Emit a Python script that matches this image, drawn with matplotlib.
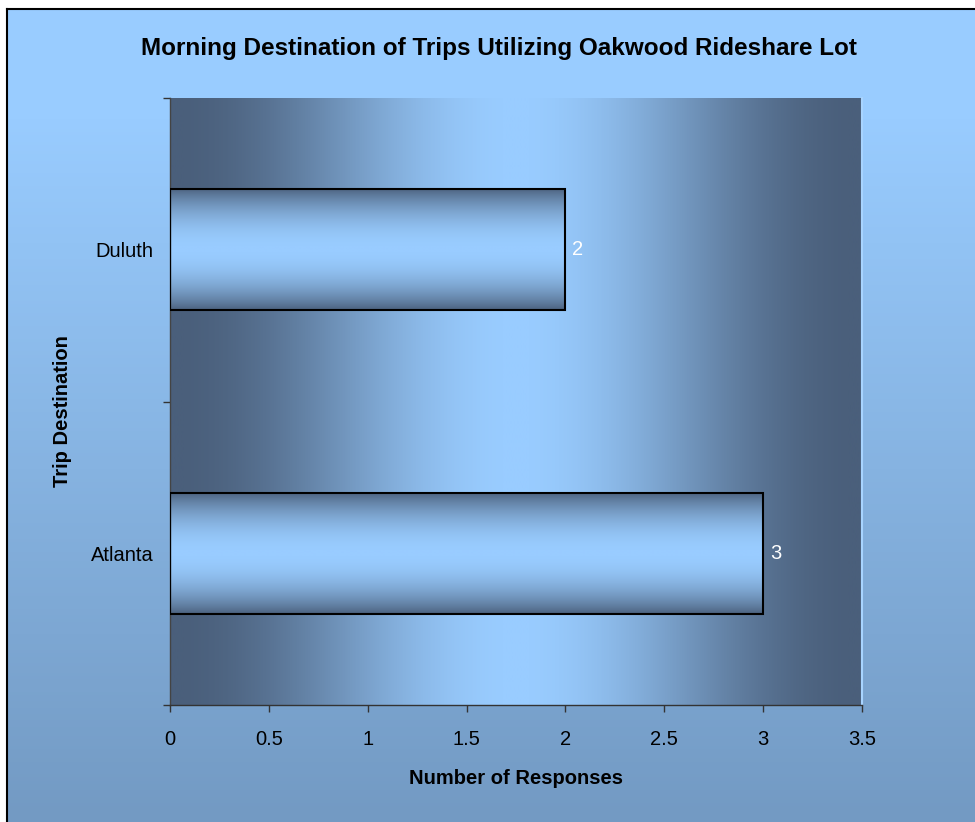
import numpy as np
import matplotlib
matplotlib.use("Agg")
import matplotlib.pyplot as plt
from matplotlib.colors import LinearSegmentedColormap

# ---- data ----
categories = ["Atlanta", "Duluth"]
responses = [3, 2]
x_ticks = [0, 0.5, 1, 1.5, 2, 2.5, 3, 3.5]
x_tick_labels = ["0", "0.5", "1", "1.5", "2", "2.5", "3", "3.5"]
title = "Morning Destination of Trips Utilizing Oakwood Rideshare Lot"
x_label = "Number of Responses"
y_label = "Trip Destination"

plt.rcParams['font.family'] = ['Liberation Sans', 'DejaVu Sans']

W, H = 975, 822
fig = plt.figure(figsize=(W / 100, H / 100), dpi=100, facecolor="white")

# ---- figure background (vertical gradient with border) ----
bg = fig.add_axes([7 / W, 0, 1 - 7 / W, 1 - 9 / H])
bg_cmap = LinearSegmentedColormap.from_list("bg", ["#739AC3", "#99CCFF"])
grad = np.linspace(0, 1, 256).reshape(-1, 1)
grad = np.clip(grad * 1.15, 0, 1)
bg.imshow(grad, cmap=bg_cmap, aspect="auto", origin="lower", extent=[0, 1, 0, 1], vmin=0, vmax=1)
bg.set_xlim(0, 1)
bg.set_ylim(0, 1)
bg.set_xticks([])
bg.set_yticks([])
for s in ["right", "bottom"]:
    bg.spines[s].set_visible(False)
for s in ["left", "top"]:
    bg.spines[s].set_color("black")
    bg.spines[s].set_linewidth(1.5)
bg.set_zorder(0)

# ---- main axes ----
left, right, top, bottom = 170, 862, 98, 705
ax = fig.add_axes([left / W, (H - bottom) / H, (right - left) / W, (bottom - top) / H])
ax.set_zorder(1)

xmax = x_ticks[-1]
n = len(categories)
ax.set_xlim(0, xmax)
ax.set_ylim(-0.5, n - 0.5)

dark = "#4A5F7B"
light = "#99CCFF"
cmap = LinearSegmentedColormap.from_list("pl", [dark, light])

# plot area horizontal gradient
u = np.linspace(0, 1, 512)
t = (1 - np.cos(2 * np.pi * u)) / 2
ax.imshow(t.reshape(1, -1), cmap=cmap, aspect="auto", extent=[0, xmax, -0.5, n - 0.5],
          vmin=0, vmax=1, zorder=0, interpolation="bilinear")

# bars
ypos = np.arange(n)
bars = ax.barh(ypos, responses, height=0.4, facecolor="none", edgecolor="black",
               linewidth=1.5, zorder=3)
v = np.linspace(0, 1, 256)
bt = np.sin(np.pi * v) ** 0.8
for b in bars:
    x0, y0 = b.get_x(), b.get_y()
    w, h = b.get_width(), b.get_height()
    ax.imshow(bt.reshape(-1, 1), cmap=cmap, aspect="auto", extent=[x0, x0 + w, y0, y0 + h],
              vmin=0, vmax=1, zorder=2, interpolation="bilinear")
    ax.annotate(f"{int(w)}", xy=(x0 + w, y0 + h / 2), xytext=(5, 0), textcoords="offset points",
                ha="left", va="center", color="white", fontsize=14.5)

ax.set_xlim(0, xmax)
ax.set_ylim(-0.5, n - 0.5)

# ticks
ax.set_xticks(x_ticks)
ax.set_xticklabels(x_tick_labels, fontsize=14.5)
ax.tick_params(axis="x", direction="out", length=5, width=1, color="#333333", pad=13)

ax.set_yticks(np.arange(-0.5, n, 1.0))
ax.set_yticklabels([])
ax.set_yticks(ypos, minor=True)
ax.set_yticklabels(categories, minor=True, fontsize=14.5)
ax.tick_params(axis="y", which="major", direction="out", length=5, width=1, color="#333333")
ax.tick_params(axis="y", which="minor", length=0, pad=12)

ax.spines["top"].set_visible(False)
ax.spines["right"].set_color("#A8D4FF")
ax.spines["right"].set_linewidth(1.5)
ax.spines["left"].set_color("#444444")
ax.spines["left"].set_linewidth(1)
ax.spines["bottom"].set_color("#333333")
ax.spines["bottom"].set_linewidth(1)

ax.set_xlabel(x_label, fontsize=14.5, fontweight="bold")
ax.xaxis.set_label_coords(0.5, (705 - 778) / 607, transform=ax.transAxes)
ax.xaxis.label.set_va("center")
ax.set_ylabel(y_label, fontsize=14.5, fontweight="bold")
ax.yaxis.set_label_coords((63 - 170) / 692, (705 - 411) / 607, transform=ax.transAxes)
ax.yaxis.label.set_va("center")

fig.text(499 / W, 1 - 48 / H, title, ha="center", va="center", fontsize=17.5, fontweight="bold")

fig.savefig("out.png", dpi=100, facecolor="white")
